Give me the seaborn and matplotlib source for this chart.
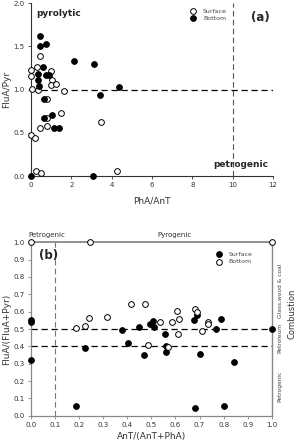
import numpy as np
import pandas as pd
import matplotlib
matplotlib.use("Agg")
import matplotlib.pyplot as plt
import seaborn as sns

# ---------------- Data panel (a) ----------------
a_surface_x = [0, 0, 0.05, 0.28, 0.33, 0.45, 0.43, 0.78, 0.81, 0.81, 0.98, 1.04, 0.98, 1.24,
               1.65, 1.49, 3.46, 4.28, 0, 0.2, 0.23, 0.48]
a_surface_y = [1.23, 1.16, 1.01, 1.26, 0.99, 1.39, 0.56, 0.58, 0.67, 0.89, 1.21, 1.11, 1.05, 1.06,
               0.98, 0.73, 0.63, 0.06, 0.47, 0.44, 0.06, 0.04]
a_bottom_x = [0, 0.46, 0.46, 0.76, 0.36, 0.36, 0.41, 0.61, 0.74, 0.91, 0.63, 0.65, 1.06, 1.13,
              1.41, 2.13, 3.11, 3.44, 4.37, 3.06]
a_bottom_y = [0.0, 1.62, 1.50, 1.53, 1.18, 1.11, 1.04, 1.26, 1.17, 1.17, 0.89, 0.67, 0.70, 0.55,
              0.55, 1.33, 1.29, 0.94, 1.03, 0.0]

# ---------------- Data panel (b) ----------------
b_surface_x = [0, 0, 0, 1.0, 0.188, 0.223, 0.377, 0.402, 0.447, 0.468, 0.493, 0.508, 0.511, 0.557,
               0.561, 0.56, 0.675, 0.691, 0.701, 0.770, 0.788, 0.845, 0.679, 0.802]
b_surface_y = [0.552, 0.538, 0.32, 0.502, 0.054, 0.388, 0.494, 0.421, 0.513, 0.352, 0.527, 0.548,
               0.51, 0.471, 0.402, 0.369, 0.552, 0.581, 0.356, 0.498, 0.558, 0.308, 0.044, 0.058]
b_bottom_x = [0, 0.247, 1.0, 0.187, 0.224, 0.242, 0.316, 0.416, 0.472, 0.485, 0.537, 0.567, 0.584,
              0.605, 0.614, 0.612, 0.681, 0.690, 0.709, 0.733, 0.735]
b_bottom_y = [1.0, 1.0, 1.0, 0.506, 0.515, 0.562, 0.571, 0.646, 0.646, 0.41, 0.538, 0.396, 0.538,
              0.602, 0.558, 0.471, 0.617, 0.596, 0.487, 0.540, 0.527]

a_xticks = [0, 2, 4, 6, 8, 10, 12]
a_yticks = [0.0, 0.5, 1.0, 1.5, 2.0]
b_ticks = [round(0.1 * i, 1) for i in range(11)]

sns.set_style("ticks")
plt.rcParams['font.family'] = ['DejaVu Sans']

fig = plt.figure(figsize=(3.01, 4.40), dpi=100)
axa = fig.add_axes([0.103, 0.600, 0.804, 0.393])
axb = fig.add_axes([0.103, 0.0552, 0.800, 0.3941])

ms = 17
open_kw = dict(s=ms, facecolor="white", edgecolor="black", linewidth=0.7, clip_on=False, zorder=5)
fill_kw = dict(s=ms, color="black", edgecolor="black", linewidth=0.7, clip_on=False, zorder=5)

# ---- Panel (a) ----
sns.scatterplot(x=a_surface_x, y=a_surface_y, ax=axa, label="Surface", **open_kw)
sns.scatterplot(x=a_bottom_x, y=a_bottom_y, ax=axa, label="Bottom", **fill_kw)
axa.set_xlim(0, 12)
axa.set_ylim(0, 2.0)
axa.axhline(1.0, color="black", ls=(0, (5, 3)), lw=0.9)
axa.axvline(10, color="#555555", ls=(0, (5, 3)), lw=0.8)
axa.set_xticks(a_xticks)
axa.set_xticklabels([str(t) for t in a_xticks])
axa.set_yticks(a_yticks)
axa.set_yticklabels([f"{t:.1f}" for t in a_yticks])
axa.tick_params(labelsize=5, length=2.5, width=0.6, pad=2, colors="#333333")
axa.set_xlabel("PhA/AnT", fontsize=6.5, color="#333333", labelpad=6)
axa.set_ylabel("FluA/Pyr", fontsize=6.5, color="#333333", labelpad=2)
sns.despine(ax=axa)
for s in ["left", "bottom"]:
    axa.spines[s].set_linewidth(0.8)
    axa.spines[s].set_color("#333333")
axa.text(0.02, 0.965, "pyrolytic", transform=axa.transAxes, fontsize=6.5, fontweight="bold",
         ha="left", va="top")
axa.text(0.98, 0.04, "petrogenic", transform=axa.transAxes, fontsize=6.5, fontweight="bold",
         ha="right", va="bottom")
axa.text(0.985, 0.955, "(a)", transform=axa.transAxes, fontsize=8.5, fontweight="bold",
         ha="right", va="top")
axa.legend(loc="upper right", bbox_to_anchor=(0.82, 0.985), frameon=False, fontsize=4.5,
           handletextpad=0.6, labelspacing=0.3, markerscale=1.0, borderaxespad=0,
           labelcolor="#444444")

# ---- Panel (b) ----
sns.scatterplot(x=b_surface_x, y=b_surface_y, ax=axb, label="Surface", **fill_kw)
sns.scatterplot(x=b_bottom_x, y=b_bottom_y, ax=axb, label="Bottom", **open_kw)
axb.set_xlim(0, 1.0)
axb.set_ylim(0, 1.0)
axb.axhline(0.5, color="black", ls=(0, (5, 3)), lw=0.9)
axb.axhline(0.4, color="black", ls=(0, (5, 3)), lw=0.9)
axb.axvline(0.1, color="#777777", ls=(0, (5, 3)), lw=0.8)
axb.set_xticks(b_ticks)
axb.set_xticklabels([f"{t:.1f}" for t in b_ticks])
axb.set_yticks(b_ticks)
axb.set_yticklabels([f"{t:.1f}" for t in b_ticks])
axb.tick_params(labelsize=5, length=2.5, width=0.6, pad=2, colors="#333333")
axb.tick_params(axis="both", color="#888888")
for s in ["left", "bottom", "right", "top"]:
    axb.spines[s].set_color("#888888")
    axb.spines[s].set_linewidth(0.9)
axb.spines["top"].set_linewidth(1.3)
axb.spines["right"].set_linewidth(1.0)
axb.set_xlabel("AnT/(AnT+PhA)", fontsize=6.5, color="#333333", labelpad=3)
axb.set_ylabel("FluA/(FluA+Pyr)", fontsize=6.5, color="#333333", labelpad=2)
axb.text(0.065, 1.045, "Petrogenic", transform=axb.transAxes, fontsize=5, ha="center",
         va="center", color="#333333")
axb.text(0.595, 1.045, "Pyrogenic", transform=axb.transAxes, fontsize=5, ha="center",
         va="center", color="#333333")
axb.text(0.035, 0.925, "(b)", transform=axb.transAxes, fontsize=8.5, fontweight="bold",
         ha="left", va="center")
axb.text(1.035, 0.72, "Glass,wood & coal", transform=axb.transAxes, fontsize=4.2, rotation=90,
         ha="center", va="center", color="#444444")
axb.text(1.035, 0.45, "Petroleum", transform=axb.transAxes, fontsize=4.2, rotation=90,
         ha="center", va="center", color="#444444")
axb.text(1.035, 0.17, "Petrogenic", transform=axb.transAxes, fontsize=4.2, rotation=90,
         ha="center", va="center", color="#444444")
axb.text(1.085, 0.59, "Combustion", transform=axb.transAxes, fontsize=6, rotation=90,
         ha="center", va="center", color="#333333")
axb.legend(loc="upper right", bbox_to_anchor=(0.93, 0.96), frameon=False, fontsize=4.5,
           handletextpad=0.6, labelspacing=0.3, borderaxespad=0, labelcolor="#444444")

fig.savefig("out.png", dpi=100)
